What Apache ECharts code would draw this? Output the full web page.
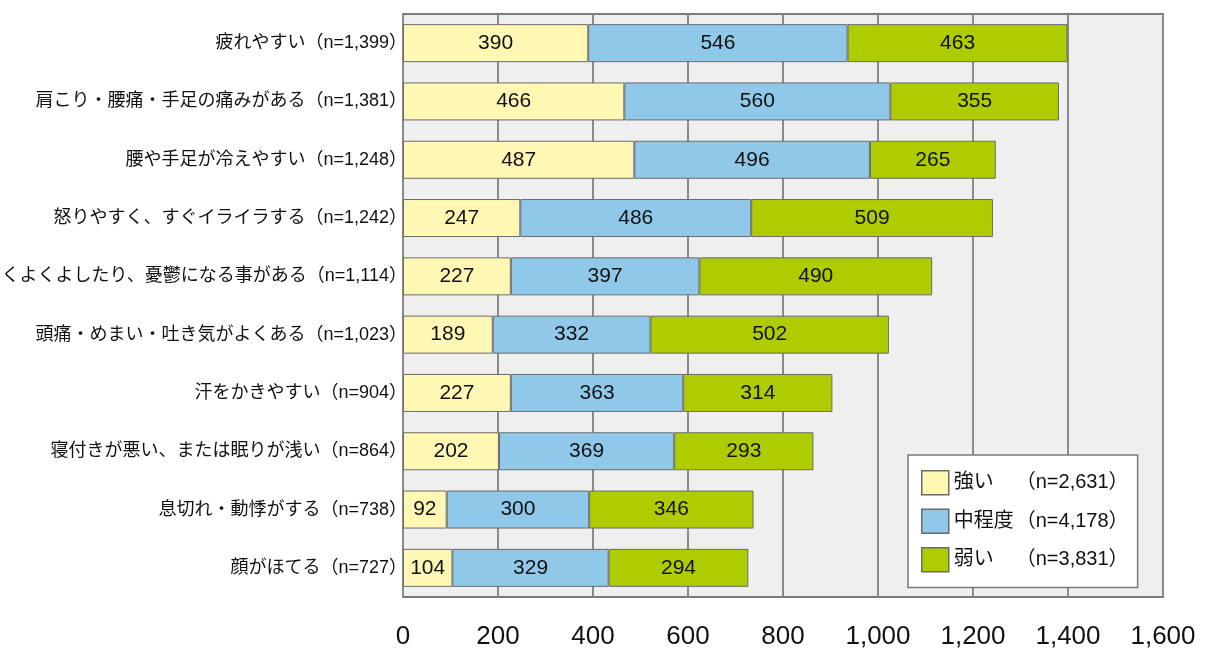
<!DOCTYPE html>
<html>
<head>
<meta charset="utf-8">
<script src="https://cdn.jsdelivr.net/npm/echarts@6/dist/echarts.min.js"></script>
<style>
  html, body { margin: 0; padding: 0; background: #ffffff; }
  #chart { width: 1210px; height: 651px; }
</style>
</head>
<body>
<div id="chart"></div>
<script>
// Symptom categories (top to bottom)
const categories = [
  '疲れやすい（n=1,399）',
  '肩こり・腰痛・手足の痛みがある（n=1,381）',
  '腰や手足が冷えやすい（n=1,248）',
  '怒りやすく、すぐイライラする（n=1,242）',
  'くよくよしたり、憂鬱になる事がある（n=1,114）',
  '頭痛・めまい・吐き気がよくある（n=1,023）',
  '汗をかきやすい（n=904）',
  '寝付きが悪い、または眠りが浅い（n=864）',
  '息切れ・動悸がする（n=738）',
  '顔がほてる（n=727）'
];

// Counts by severity
const strong = [390, 466, 487, 247, 227, 189, 227, 202, 92, 104];
const moderate = [546, 560, 496, 486, 397, 332, 363, 369, 300, 329];
const weak = [463, 355, 265, 509, 490, 502, 314, 293, 346, 294];

// Legend entries: name and respondent total
const seriesNames = ['強い', '中程度', '弱い'];
const seriesTotals = ['（n=2,631）', '（n=4,178）', '（n=3,831）'];
const seriesColors = ['#fff8b4', '#8fc8e8', '#afcc00'];

const FONT = '"Liberation Sans", "Noto Sans CJK JP", sans-serif';

const chart = echarts.init(document.getElementById('chart'), null, { renderer: 'canvas' });

function makeSeries(name, data, color) {
  return {
    name: name,
    type: 'bar',
    stack: 'total',
    data: data,
    barWidth: 38,
    itemStyle: { color: color, borderColor: '#6b6b6b', borderWidth: 1 },
    label: {
      show: true,
      position: 'inside',
      color: '#111',
      fontSize: 21,
      fontFamily: FONT
    },
    emphasis: { disabled: true }
  };
}

chart.setOption({
  animation: false,
  textStyle: { fontFamily: FONT },
  grid: {
    left: 403, right: 47, top: 14, bottom: 54,
    outerBoundsMode: 'none',
    containLabel: false,
    show: true,
    backgroundColor: '#eeefee',
    borderColor: '#7a7a7a',
    borderWidth: 2
  },
  legend: {
    orient: 'vertical',
    left: 908, top: 455,
    padding: [15, 9, 15, 13],
    backgroundColor: '#ffffff',
    borderColor: '#7a7a7a',
    borderWidth: 1.5,
    itemWidth: 27,
    itemHeight: 24,
    itemGap: 13,
    icon: 'rect',
    selectedMode: false,
    data: seriesNames.map((n, i) => ({
      name: n,
      itemStyle: { color: seriesColors[i], borderColor: '#6b6b6b', borderWidth: 1.5 }
    })),
    formatter: function (name) {
      const i = seriesNames.indexOf(name);
      return '{a|' + name + '}{b|' + seriesTotals[i] + '}';
    },
    textStyle: {
      rich: {
        a: { fontSize: 20, color: '#111', width: 62, fontFamily: FONT },
        b: { fontSize: 20, color: '#111', fontFamily: FONT }
      }
    }
  },
  xAxis: {
    type: 'value',
    min: 0, max: 1600, interval: 200,
    axisLine: { show: false },
    axisTick: { show: false },
    splitLine: { show: true, lineStyle: { color: '#8a8a8a', width: 2 } },
    axisLabel: {
      color: '#111',
      fontSize: 26,
      margin: 27,
      fontFamily: FONT,
      formatter: v => v.toLocaleString('en-US')
    }
  },
  yAxis: {
    type: 'category',
    inverse: true,
    data: categories,
    axisLine: { show: false },
    axisTick: { show: false },
    axisLabel: {
      color: '#111',
      fontSize: 18,
      margin: -4,
      fontFamily: FONT
    }
  },
  series: [
    makeSeries(seriesNames[0], strong, seriesColors[0]),
    makeSeries(seriesNames[1], moderate, seriesColors[1]),
    makeSeries(seriesNames[2], weak, seriesColors[2])
  ]
});
</script>
</body>
</html>
